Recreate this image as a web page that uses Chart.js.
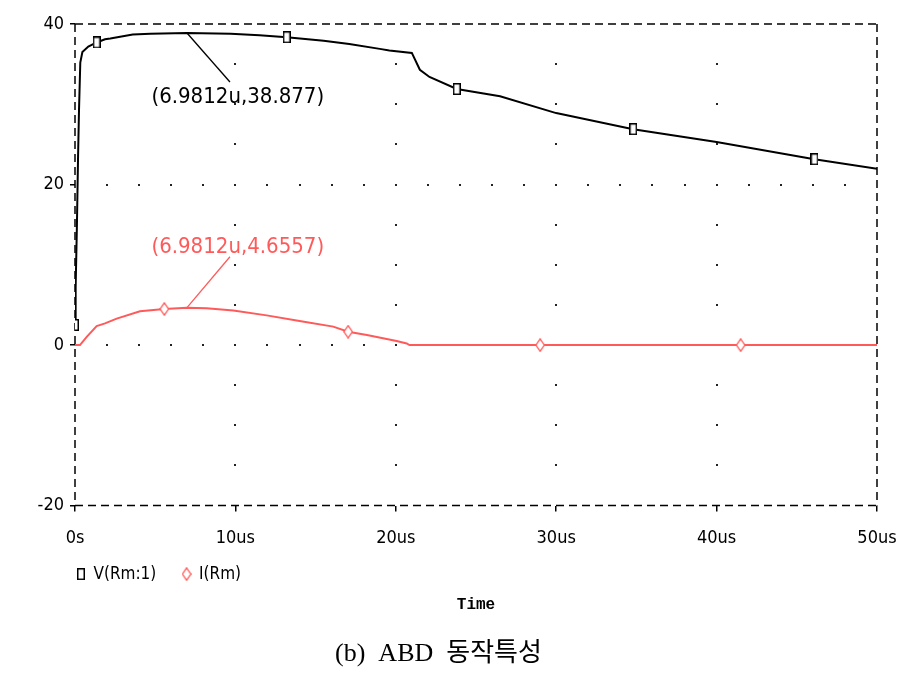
<!DOCTYPE html>
<html>
<head>
<meta charset="utf-8">
<script src="https://cdn.jsdelivr.net/npm/chart.js@4/dist/chart.umd.min.js"></script>
<style>
html,body{margin:0;padding:0;background:#fff;}
#wrap{width:898px;height:683px;}
</style>
</head>
<body>
<div id="wrap"><canvas id="c" width="898" height="683"></canvas></div>
<script>
// ---- data (time in microseconds) ----
const timeV = [0, 0.04, 0.12, 0.19, 0.25, 0.33, 0.46, 0.83, 1.35, 1.87, 2.2, 3.6, 4.7, 6.98, 9.7, 11.5, 13.2, 15.5, 17.1, 19.0, 19.6, 21.0, 21.5, 22.1, 23.8, 26.5, 30.0, 34.8, 40.0, 46.1, 50.0];
const valuesV = [2.5, 7.2, 15, 23.4, 29.3, 35.2, 36.5, 37.2, 37.7, 38.1, 38.2, 38.7, 38.8, 38.88, 38.8, 38.6, 38.35, 37.9, 37.5, 36.9, 36.7, 36.4, 34.3, 33.4, 31.9, 31.0, 28.9, 26.9, 25.3, 23.15, 21.95];
const markerTimesV = [0, 1.35, 13.2, 23.8, 34.8, 46.1];

const timeI = [0, 0.31, 0.73, 1.35, 1.87, 2.6, 4.05, 5.57, 6.98, 8.2, 9.87, 11.95, 14.0, 16.1, 17.03, 18.2, 20.05, 20.68, 20.85, 29.0, 41.5, 50.0];
const valuesI = [0, 0, 1.03, 2.37, 2.7, 3.3, 4.2, 4.5, 4.66, 4.6, 4.3, 3.7, 3.0, 2.3, 1.66, 1.25, 0.5, 0.2, 0, 0, 0, 0];
const markerTimesI = [5.57, 17.03, 29.0, 41.5];

const seriesNames = ['V(Rm:1)', 'I(Rm)'];
const xTickValues = [0, 10, 20, 30, 40, 50];
const xTickLabels = ['0s', '10us', '20us', '30us', '40us', '50us'];
const yTickLabels = ['-20', '0', '20', '40'];
const xAxisTitle = 'Time';
const caption = '(b)  ABD  동작특성';
const cursorTime = 6.9812;
const cursorLabels = ['(6.9812u,38.877)', '(6.9812u,4.6557)'];
const cursorValues = [38.877, 4.6557];

// ---- styles ----
const RED = '#ff5a5a';
const NARROW = "'Liberation Sans Narrow','DejaVu Sans Condensed',sans-serif";

function makeRectMarker() {
  const c = document.createElement('canvas');
  c.width = 8; c.height = 12;
  const g = c.getContext('2d');
  g.fillStyle = '#fff'; g.fillRect(0, 0, 8, 12);
  g.strokeStyle = '#000'; g.lineWidth = 1.5;
  g.strokeRect(0.75, 0.75, 6.5, 10.5);
  return c;
}
function makeDiamondMarker() {
  const c = document.createElement('canvas');
  c.width = 10; c.height = 14;
  const g = c.getContext('2d');
  g.beginPath();
  g.moveTo(5, 0.8); g.lineTo(9.2, 7); g.lineTo(5, 13.2); g.lineTo(0.8, 7); g.closePath();
  g.fillStyle = '#fff'; g.fill();
  g.strokeStyle = RED; g.lineWidth = 1.3; g.stroke();
  return c;
}
const rectMarker = makeRectMarker();
const diamondMarker = makeDiamondMarker();

const frameAndGrid = {
  id: 'frameAndGrid',
  beforeDatasetsDraw(chart) {
    const {ctx, chartArea: a, scales: {x, y}} = chart;
    ctx.save();
    ctx.fillStyle = '#222';
    for (let t = 10; t < 50; t += 10) {
      for (let v = -15; v < 40; v += 5) {
        ctx.fillRect(Math.round(x.getPixelForValue(t)) - 1, Math.round(y.getPixelForValue(v)) - 1, 2, 2);
      }
    }
    for (const v of [0, 20]) {
      for (let t = 2; t < 50; t += 2) {
        ctx.fillRect(Math.round(x.getPixelForValue(t)) - 1, Math.round(y.getPixelForValue(v)) - 1, 2, 2);
      }
    }
    ctx.strokeStyle = '#000';
    ctx.lineWidth = 1.5;
    ctx.setLineDash([8, 5]);
    ctx.beginPath();
    ctx.moveTo(a.left, a.top); ctx.lineTo(a.right, a.top);
    ctx.moveTo(a.right, a.top); ctx.lineTo(a.right, a.bottom);
    ctx.moveTo(a.left, a.top); ctx.lineTo(a.left, a.bottom);
    ctx.moveTo(a.left, a.bottom); ctx.lineTo(a.right, a.bottom);
    ctx.stroke();
    ctx.restore();
  },
  afterDatasetsDraw(chart) {
    const {ctx, scales: {x, y}} = chart;
    ctx.save();
    const items = [
      {color: '#000', v: cursorValues[0], text: cursorLabels[0], lx: 9.66, ly: cursorValues[0] - 6.1, tx: 10.15, ty: cursorValues[0] - 8.0},
      {color: RED, v: cursorValues[1], text: cursorLabels[1], lx: 9.66, ly: cursorValues[1] + 6.35, tx: 10.15, ty: cursorValues[1] + 7.5}
    ];
    for (const it of items) {
      ctx.strokeStyle = it.color;
      ctx.lineWidth = 1.3;
      ctx.beginPath();
      ctx.moveTo(x.getPixelForValue(cursorTime), y.getPixelForValue(it.v));
      ctx.lineTo(x.getPixelForValue(it.lx), y.getPixelForValue(it.ly));
      ctx.stroke();
      ctx.fillStyle = it.color;
      ctx.font = "22px " + NARROW;
      ctx.textAlign = 'center';
      ctx.textBaseline = 'middle';
      ctx.fillText(it.text, x.getPixelForValue(it.tx), y.getPixelForValue(it.ty));
    }
    ctx.restore();
  }
};

const chart = new Chart(document.getElementById('c'), {
  type: 'line',
  data: {
    datasets: [
      {
        label: seriesNames[0],
        data: timeV.map((t, i) => ({x: t, y: valuesV[i]})),
        borderColor: '#000',
        backgroundColor: '#fff',
        borderWidth: 2,
        pointStyle: rectMarker,
        pointRadius: ctx => markerTimesV.includes(timeV[ctx.dataIndex]) ? 5 : 0,
        tension: 0,
        order: 1
      },
      {
        label: seriesNames[1],
        data: timeI.map((t, i) => ({x: t, y: valuesI[i]})),
        borderColor: RED,
        backgroundColor: '#fff',
        borderWidth: 2,
        pointStyle: diamondMarker,
        pointRadius: ctx => markerTimesI.includes(timeI[ctx.dataIndex]) ? 5 : 0,
        tension: 0,
        order: 2
      }
    ]
  },
  options: {
    responsive: false,
    devicePixelRatio: 1,
    animation: false,
    events: [],
    layout: {padding: {top: 24, right: 21, left: 0, bottom: 0}},
    scales: {
      x: {
        type: 'linear',
        min: 0, max: 50,
        afterBuildTicks: s => { s.ticks = xTickValues.map(v => ({value: v})); },
        afterFit: s => { s.height = 58; s.paddingRight = 0; s.paddingLeft = 0; },
        ticks: {
          callback: (v) => xTickLabels[xTickValues.indexOf(v)],
          color: '#000',
          font: {family: NARROW, size: 18},
          padding: 16,
          maxRotation: 0
        },
        grid: {drawOnChartArea: false, drawTicks: true, tickLength: 6, color: '#000', lineWidth: 1.5},
        border: {display: false}
      },
      y: {
        min: -20, max: 40,
        afterBuildTicks: s => { s.ticks = yTickLabels.map(v => ({value: Number(v)})); },
        afterFit: s => { s.width = 75; s.paddingTop = 0; s.paddingBottom = 0; },
        ticks: {
          callback: (v) => yTickLabels[yTickLabels.indexOf(String(v))],
          color: '#000',
          font: {family: NARROW, size: 18},
          padding: 6
        },
        grid: {drawOnChartArea: false, drawTicks: true, tickLength: 5, color: '#000', lineWidth: 1.5},
        border: {display: false}
      }
    },
    plugins: {
      tooltip: {enabled: false},
      legend: {
        display: true,
        position: 'bottom',
        align: 'start',
        fullSize: false,
        labels: {
          usePointStyle: true,
          boxWidth: 8,
          boxHeight: 12,
          padding: 2,
          color: '#000',
          font: {family: NARROW, size: 17},
          generateLabels: (ch) => Chart.defaults.plugins.legend.labels.generateLabels(ch).map((l, i) => {
            l.text = i === 0 ? l.text + '     ' : l.text;
            l.pointStyle = i === 0 ? rectMarker : diamondMarker;
            l.fontColor = '#000';
            return l;
          })
        }
      },
      subtitle: {
        display: true,
        position: 'bottom',
        fullSize: false,
        text: xAxisTitle,
        color: '#000',
        font: {family: "'Liberation Mono',monospace", size: 16, weight: 'bold'},
        padding: {top: 3, bottom: 0}
      },
      title: {
        display: true,
        position: 'bottom',
        text: caption,
        color: '#000',
        font: {family: "'Liberation Serif','Noto Sans CJK KR',serif", size: 26, weight: 'normal'},
        padding: {top: 24, bottom: 13}
      }
    }
  },
  plugins: [frameAndGrid]
});
</script>
</body>
</html>
